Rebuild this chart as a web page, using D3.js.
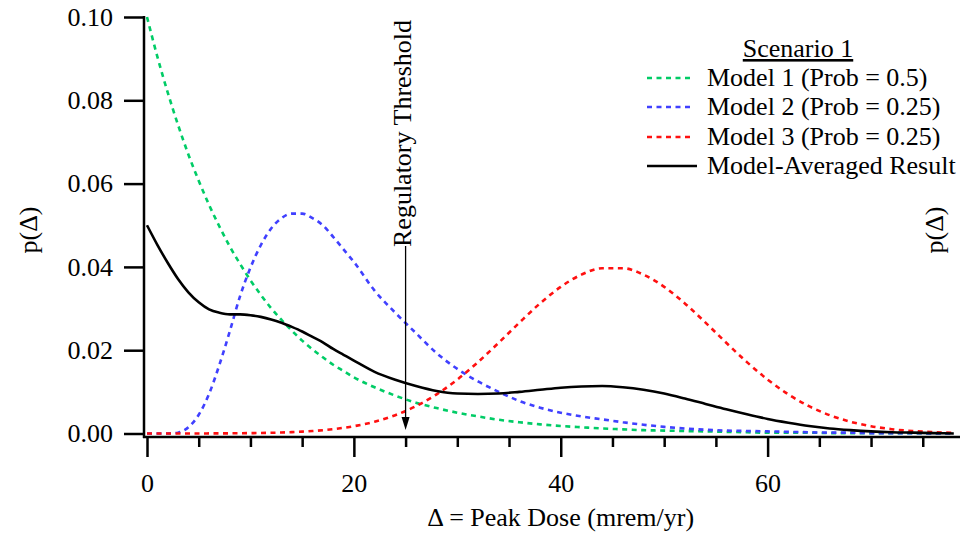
<!DOCTYPE html>
<html><head><meta charset="utf-8">
<script src="https://cdn.jsdelivr.net/npm/d3@7"></script>
<style>body{margin:0;background:#fff}svg{display:block}text{font-family:"Liberation Serif","Times New Roman",serif;fill:#000}</style>
</head><body>
<svg id="c" width="960" height="533"></svg>
<script>
const xs = [0,1,2,3,4,5,6,7,8,9,10,11,12,13,14,15,16,17,18,19,20,22,24,26,28,30,32,34,36,38,40,42,44,46,48,50,52,54,56,58,60,62,64,66,68,70,72,74,76,78];
const model1 = [0.1000,0.0905,0.0819,0.0741,0.0670,0.0607,0.0549,0.0497,0.0449,0.0407,0.0368,0.0333,0.0301,0.0273,0.0247,0.0223,0.0202,0.0183,0.0165,0.0150,0.0135,0.0111,0.0091,0.0074,0.0061,0.0050,0.0041,0.0033,0.0027,0.0022,0.0018,0.0015,0.0012,0.0010,0.0008,0.0007,0.0006,0.0005,0.0004,0.0003,0.0002,0.0002,0.0002,0.0001,0.0001,0.0001,0.0001,0.0001,0.0000,0.0000];
const model2 = [0,0,0,0.0002,0.0015,0.0045,0.0095,0.0165,0.0245,0.0330,0.0398,0.0452,0.0492,0.0517,0.0528,0.0528,0.0517,0.0500,0.0472,0.0442,0.0412,0.0343,0.0290,0.0241,0.0193,0.0155,0.0125,0.0100,0.0078,0.0062,0.0050,0.0041,0.0034,0.0027,0.0021,0.0016,0.0012,0.0009,0.0007,0.0006,0.0005,0.0004,0.0003,0.0002,0.0002,0.0001,0.0001,0.0001,0.0000,0.0000];
const model3 = [0,0,0,0,0,0,0.00002,0.00003,0.00004,0.00006,0.00009,0.00012,0.00017,0.00024,0.00033,0.00044,0.00059,0.00079,0.00104,0.00136,0.00175,0.00283,0.00440,0.00656,0.00940,0.01295,0.01714,0.02179,0.02661,0.03123,0.03521,0.03814,0.03969,0.03969,0.03814,0.03521,0.03123,0.02661,0.02179,0.01714,0.01295,0.00940,0.00656,0.00440,0.00283,0.00175,0.00104,0.00059,0.00033,0.00017];
const averaged = [0.0500,0.0453,0.0410,0.0371,0.0339,0.0315,0.0298,0.0290,0.0286,0.0286,0.0284,0.0280,0.0274,0.0266,0.0256,0.0245,0.0232,0.0219,0.0203,0.0189,0.0175,0.0148,0.0129,0.0114,0.0102,0.0096,0.0095,0.0096,0.0100,0.0105,0.0110,0.0113,0.0114,0.0111,0.0105,0.0096,0.0084,0.0071,0.0058,0.0046,0.0035,0.0026,0.0018,0.0012,0.0008,0.0005,0.0003,0.0002,0.0001,0.0000];
const xMajorTicks = [0,20,40,60];
const xMinorTicks = [5,10,15,25,30,35,45,50,55,65,70,75];
const yTicks = [0,0.02,0.04,0.06,0.08,0.10];
const legendTitle = "Scenario 1";
const seriesNames = ["Model 1 (Prob = 0.5)","Model 2 (Prob = 0.25)","Model 3 (Prob = 0.25)","Model-Averaged Result"];
const seriesColors = ["#00cc66","#4040ff","#ff1010","#000000"];
const threshold = 25;

const svg = d3.select("#c");
const x = d3.scaleLinear().domain([0,78.6]).range([147,960]);
const y = d3.scaleLinear().domain([0,0.1]).range([433.5,17]);
const FS = 26;

// axis lines
svg.append("line").attr("x1",144).attr("x2",144).attr("y1",16).attr("y2",438).attr("stroke","#000").attr("stroke-width",2.5);
svg.append("line").attr("x1",143).attr("x2",960).attr("y1",437).attr("y2",437).attr("stroke","#000").attr("stroke-width",2.5);

// y axis
const ya = svg.append("g").attr("transform","translate(144,0)")
  .call(d3.axisLeft(y).tickValues(yTicks).tickSize(20).tickPadding(11).tickFormat(d3.format(".2f")));
ya.select(".domain").remove();
ya.selectAll("line").attr("stroke-width",2.5);
ya.selectAll("text").attr("font-size",FS);

// x axis minor
const xm = svg.append("g").attr("transform","translate(0,437)")
  .call(d3.axisBottom(x).tickValues(xMinorTicks).tickSize(10).tickFormat(""));
xm.select(".domain").remove();
xm.selectAll("line").attr("stroke-width",2.5);
const xa = svg.append("g").attr("transform","translate(0,437)")
  .call(d3.axisBottom(x).tickValues(xMajorTicks).tickSize(20).tickPadding(17).tickFormat(d3.format("d")));
xa.select(".domain").remove();
xa.selectAll("line").attr("stroke-width",2.5);
xa.selectAll("text").attr("font-size",FS);

// curves
const allSeries = [model1, model2, model3, averaged];
const line = d3.line().x((d,i)=>x(xs[i])).y(d=>y(d)).curve(d3.curveMonotoneX);
allSeries.forEach((s,k)=>{
  svg.append("path").datum(s).attr("d",line).attr("fill","none")
    .attr("stroke",seriesColors[k]).attr("stroke-width",2.6)
    .attr("stroke-dasharray", k<3 ? "5,4.5" : null);
});

// threshold arrow
const tx = x(threshold);
svg.append("line").attr("x1",tx).attr("x2",tx).attr("y1",246).attr("y2",418).attr("stroke","#000").attr("stroke-width",1.3);
svg.append("path").attr("d",`M${tx-4},${417} L${tx+4},${417} L${tx},${430} Z`).attr("fill","#000");
svg.append("text").attr("transform",`translate(${tx+5},247) rotate(-90)`).attr("font-size",FS).text("Regulatory Threshold");

// axis labels
svg.append("text").attr("x",x(40)).attr("y",526).attr("text-anchor","middle").attr("font-size",FS).text("Δ = Peak Dose (mrem/yr)");
svg.append("text").attr("transform","translate(37,230) rotate(-90)").attr("text-anchor","middle").attr("font-size",FS).text("p(Δ)");
svg.append("text").attr("transform","translate(943,230) rotate(-90)").attr("text-anchor","middle").attr("font-size",FS).text("p(Δ)");

// legend
svg.append("text").attr("x",798).attr("y",57).attr("text-anchor","middle").attr("font-size",FS).attr("text-decoration","underline").text(legendTitle);
const legY = [78,107,137,166];
seriesNames.forEach((n,k)=>{
  svg.append("line").attr("x1",647).attr("x2",k<3?693:697).attr("y1",legY[k]).attr("y2",legY[k])
    .attr("stroke",seriesColors[k]).attr("stroke-width",2.6).attr("stroke-dasharray",k<3?"5,4.5":null);
  svg.append("text").attr("x",707).attr("y",legY[k]+8).attr("font-size",FS).text(n);
});
</script>
</body></html>
